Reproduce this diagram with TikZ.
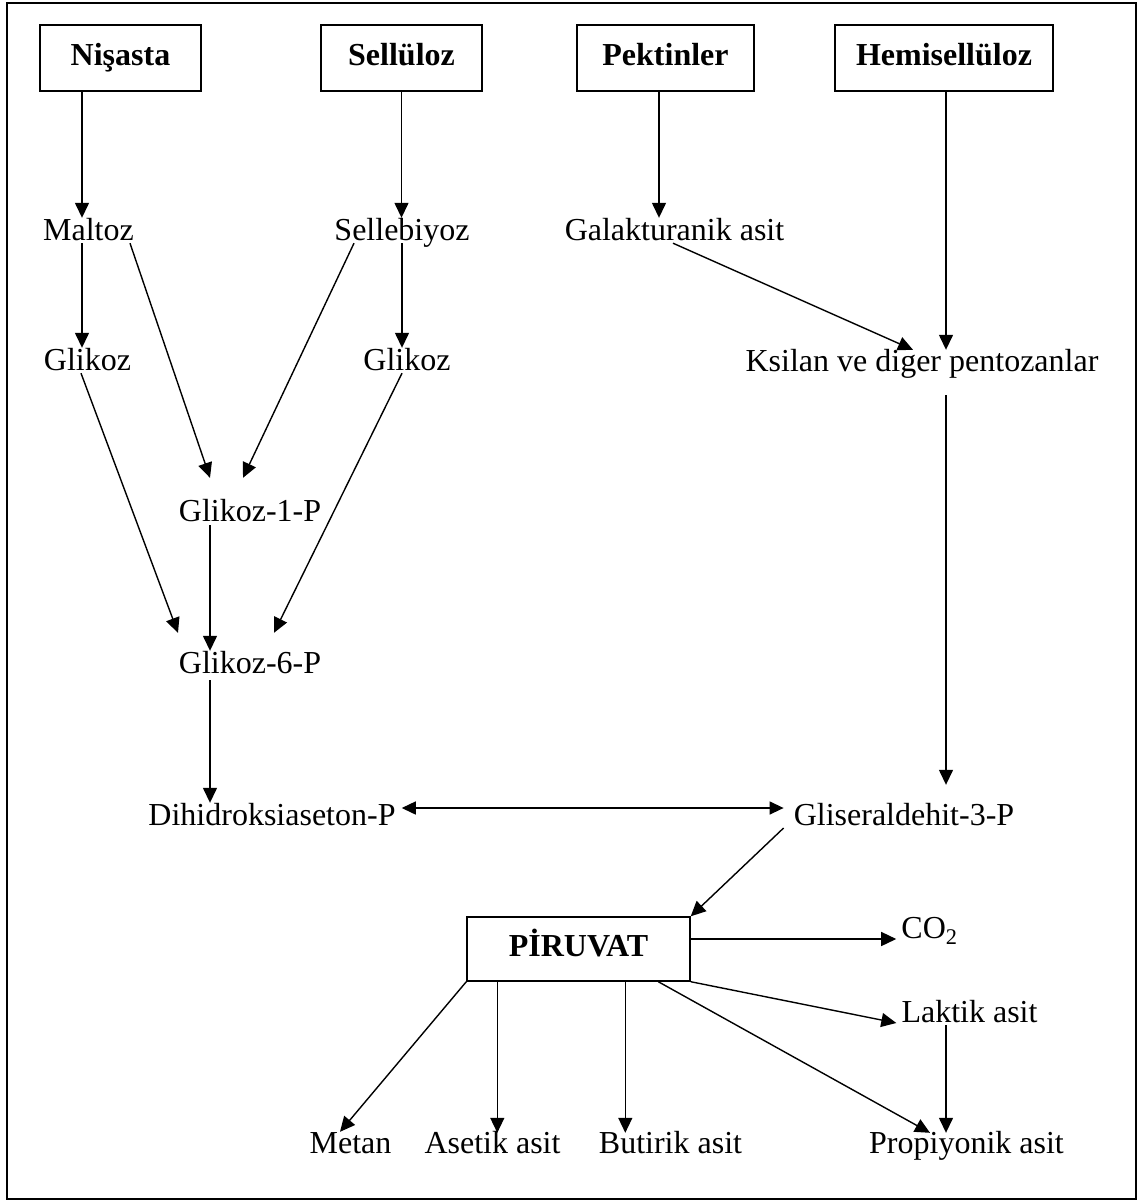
\documentclass[tikz,border=0pt]{standalone}
\usepackage{fontspec}
\setmainfont{Liberation Serif}
\usetikzlibrary{arrows.meta,calc}
\begin{document}
\begin{tikzpicture}[x=1pt,y=-1pt,
  lbl/.style={inner sep=0pt,text height=22pt,text depth=7pt,anchor=base,font=\fontsize{32}{36}\selectfont},
  bx/.style={draw,line width=1.4pt,inner sep=0pt,text height=22pt,text depth=7pt,minimum height=66pt,font=\fontsize{32}{36}\selectfont\bfseries},
  arr/.style={line width=1.4pt,-{Triangle[length=15pt,width=14pt]}},
  darr/.style={line width=1.4pt,{Triangle[length=14pt,width=13pt]}-{Triangle[length=14pt,width=13pt]}}]
\useasboundingbox (0,0) rectangle (1146,1200);
\draw[line width=2pt] (6.5,3) rectangle (1136,1198.5);
% boxes
\node[bx,minimum width=161pt] (nis) at (120.5,58) {Nişasta};
\node[bx,minimum width=161pt] (sel) at (401.5,58) {Sellüloz};
\node[bx,minimum width=177pt] (pek) at (665.5,58) {Pektinler};
\node[bx,minimum width=218pt] (hem) at (944,58) {Hemisellüloz};
\node[bx,minimum width=223pt,minimum height=64pt] (pir) at (578.5,949) {PİRUVAT};
% labels
\node[lbl] (maltoz) at (88.5,240) {Maltoz};
\node[lbl] (selb) at (402,240) {Sellebiyoz};
\node[lbl] (gal) at (674.5,240) {Galakturanik asit};
\node[lbl] (glk1) at (87.5,370) {Glikoz};
\node[lbl] (glk2) at (407,370) {Glikoz};
\node[lbl] (ksi) at (922,371) {Ksilan ve diger pentozanlar};
\node[lbl] (g1p) at (250,521) {Glikoz-1-P};
\node[lbl] (g6p) at (250,673) {Glikoz-6-P};
\node[lbl] (dhap) at (272,825) {Dihidroksiaseton-P};
\node[lbl] (gap) at (904,825) {Gliseraldehit-3-P};
\node[lbl] (co2) at (929.5,938) {CO\textsubscript{2}};
\node[lbl] (lak) at (969.5,1022) {Laktik asit};
\node[lbl] (met) at (350.5,1153) {Metan};
\node[lbl] (ase) at (492.5,1153) {Asetik asit};
\node[lbl] (but) at (670.5,1153) {Butirik asit};
\node[lbl] (pro) at (966.5,1153) {Propiyonik asit};
% start points of vertical connectors
\path ($(nis.south)+(-38.5,0)$) coordinate (s1)
      ($(pek.south)+(-6.5,0)$) coordinate (s3)
      ($(hem.south)+(2,0)$) coordinate (s4)
      ($(maltoz.south)+(-6.5,-4)$) coordinate (s5)
      ($(g1p.south)+(-40,-3)$) coordinate (s11)
      ($(g6p.south)+(-40,0)$) coordinate (s12)
      ($(ksi.south)+(24,17)$) coordinate (s14)
      ($(lak.south)+(-23.5,-4)$) coordinate (s19)
      ($(pir.south west)+(31,0)$) coordinate (s21)
      ($(pir.south west)+(159,0)$) coordinate (s22)
      ($(pir.east)+(0,-10)$) coordinate (s17);
% top arrows
\draw[arr] (s1) -- (s1 |- maltoz.north);
\draw[arr] (sel.south) -- (sel.south |- selb.north);
\draw[arr] (s3) -- (s3 |- gal.north);
\draw[arr] (s4) -- ($(s4 |- ksi.north)+(0,1)$);
% second level
\draw[arr] (s5) -- (s5 |- glk1.north);
\draw[arr] ($(selb.south)+(0,-4)$) -- ($(glk2.north)+(-5,0)$);
\draw[arr] ($(maltoz.south)+(41.5,-4)$) -- ($(g1p.north)+(-40,-21)$);
\draw[arr] ($(selb.south)+(-48,-4)$) -- ($(g1p.north)+(-7,-21)$);
\draw[arr] ($(glk1.south)+(-6.5,-4)$) -- ($(g6p.north)+(-72,-18)$);
\draw[arr] ($(glk2.south)+(-5,-4)$) -- ($(g6p.north)+(24,-18)$);
\draw[arr] (s11) -- (s11 |- g6p.north);
\draw[arr] (s12) -- (s12 |- dhap.north);
\draw[arr] ($(gal.south)+(-1.5,-4)$) -- ($(ksi.north)+(-9,1)$);
\draw[arr] (s14) -- ($(s14 |- gap.north)+(0,-18)$);
\draw[darr] ($(dhap.base east)+(6,-17)$) -- ($(gap.base west)+(-10,-17)$);
\draw[arr] ($(gap.base west)+(-10,3)$) -- (pir.north east);
% piruvat outputs
\draw[arr] (s17) -- ($(s17 -| co2.west)+(-5,0)$);
\draw[arr] (pir.south east) -- ($(lak.base west)+(-5,1)$);
\draw[arr] (s19) -- ($(s19 |- pro.north)+(0,2)$);
\draw[arr] (pir.south west) -- ($(met.north)+(-10.5,1)$);
\draw[arr] (s21) -- ($(s21 |- ase.north)+(0,2)$);
\draw[arr] (s22) -- ($(s22 |- but.north)+(0,2)$);
\draw[arr] ($(pir.south west)+(192,0)$) -- ($(pro.north)+(-36.5,2)$);
\end{tikzpicture}
\end{document}
